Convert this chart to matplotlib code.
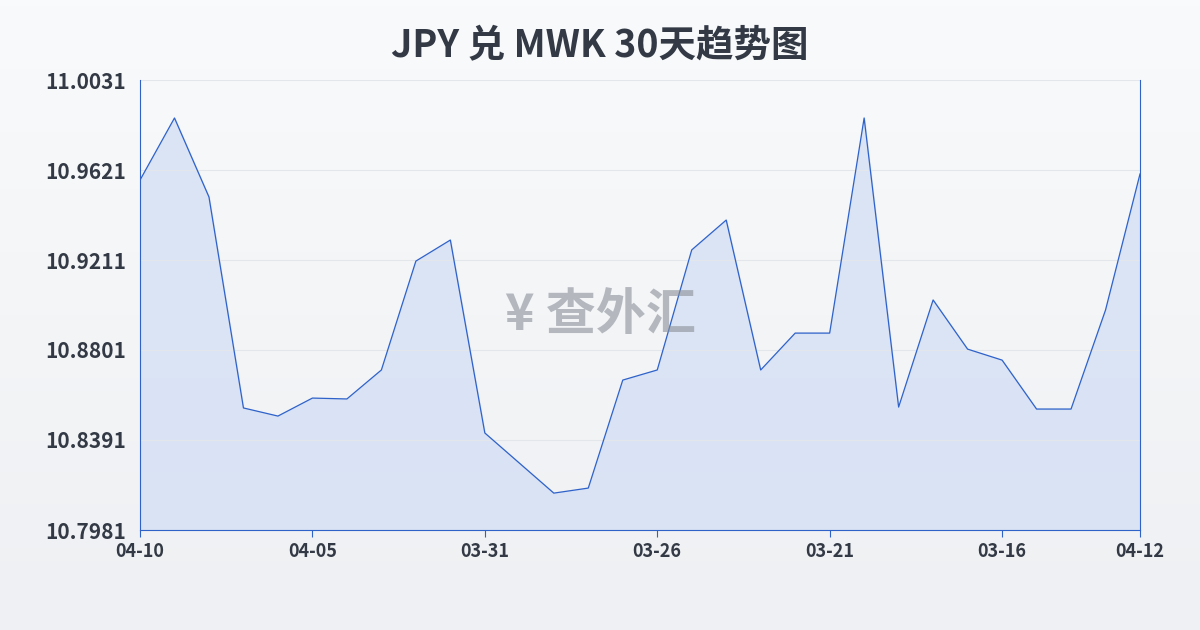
import matplotlib
matplotlib.use('Agg')
import matplotlib.pyplot as plt
import numpy as np

plt.rcParams['font.family'] = ['Noto Sans CJK SC', 'DejaVu Sans']

title = 'JPY 兑 MWK 30天趋势图'
values = [10.9575, 10.9858, 10.9498, 10.8537, 10.8500, 10.8582, 10.8578, 10.8710,
          10.9206, 10.9302, 10.8423, 10.8286, 10.8149, 10.8172, 10.8664, 10.8710,
          10.9257, 10.9393, 10.8710, 10.8878, 10.8878, 10.9858, 10.8541, 10.9029,
          10.8805, 10.8755, 10.8532, 10.8532, 10.8983, 10.9603]
tick_pos = [0, 5, 10, 15, 20, 25, 29]
tick_labels = ['04-10', '04-05', '03-31', '03-26', '03-21', '03-16', '04-12']
y_ticks = [10.7981, 10.8391, 10.8801, 10.9211, 10.9621, 11.0031]

fig = plt.figure(figsize=(12, 6.3), dpi=100)
bg = fig.add_axes([0, 0, 1, 1], zorder=-10)
grad = np.linspace(0, 1, 100).reshape(-1, 1)
bg.imshow(grad, aspect='auto', extent=(0, 1, 0, 1),
          cmap=matplotlib.colors.LinearSegmentedColormap.from_list('g', ['#f9fafb', '#eef0f3']))
bg.axis('off')

ax = fig.add_axes([140 / 1200, 1 - 530 / 630, 1000 / 1200, 450 / 630])
ax.patch.set_alpha(0)
x = np.arange(len(values))
ax.fill_between(x, values, y_ticks[0], color='#d4e0f5', alpha=0.8)
ax.plot(x, values, color='#2f62c9', lw=0.9)
ax.set_xlim(0, len(values) - 1)
ax.set_ylim(y_ticks[0], y_ticks[-1])
ax.set_yticks(y_ticks)
ax.set_yticklabels([f'{v:.4f}' for v in y_ticks], fontsize=15, color='#333a45',
                   fontweight='bold')
ax.set_xticks(tick_pos)
ax.set_xticklabels(tick_labels, fontsize=13, color='#333a45', fontweight='bold')
ax.grid(axis='y', color='#e3e6ea', lw=0.8)
ax.tick_params(axis='y', length=0, pad=10)
ax.tick_params(axis='x', length=5, color='#2f62c9')
ax.spines['top'].set_visible(False)
for s in ['left', 'bottom', 'right']:
    ax.spines[s].set_color('#2f62c9')

fig.text(0.5, 0.928, title, ha='center', va='center', fontsize=27,
         fontweight='bold', color='#333a45')
fig.text(0.5, 0.5, '¥ 查外汇', ha='center', va='center', fontsize=36,
         fontweight='bold', color='#8a9099', alpha=0.6)

fig.savefig('out.png', dpi=100)
